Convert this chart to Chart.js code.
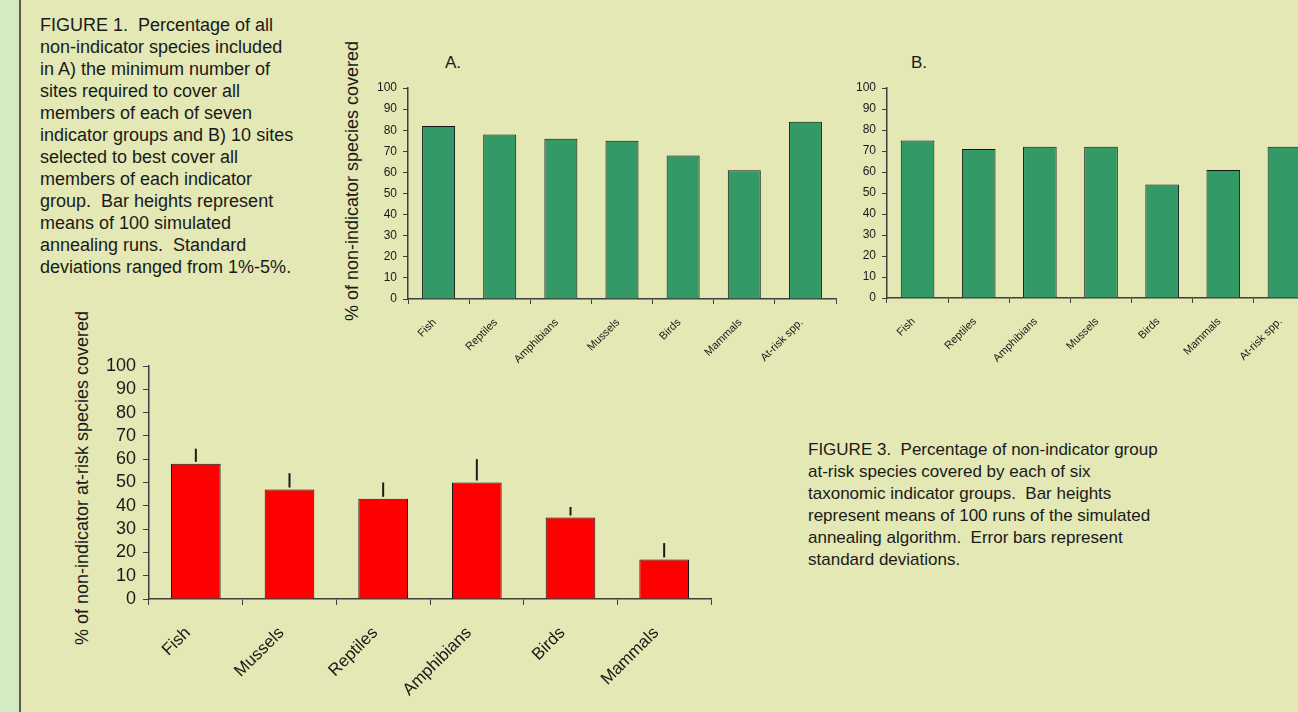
<!DOCTYPE html>
<html>
<head>
<meta charset="utf-8">
<script src="https://cdn.jsdelivr.net/npm/chart.js@4.4.1/dist/chart.umd.min.js"></script>
<style>
  html, body { margin: 0; padding: 0; }
  body {
    width: 1298px; height: 712px; overflow: hidden; position: relative;
    background: #e3e8b4; color: #1a1a1a;
    font-family: "Liberation Sans", Arial, sans-serif;
  }
  .strip { position: absolute; left: 0; top: 0; width: 19px; height: 712px; background: #d3eac3; border-right: 2px solid #5c5c4c; }
  .caption { position: absolute; white-space: pre; line-height: 22px; }
  .box { position: absolute; }
  .ytitle { position: absolute; white-space: nowrap; font-size: 18px; line-height: 22px; transform: translate(-50%, -50%) rotate(-90deg); }
  .panel { position: absolute; font-size: 17px; line-height: 22px; }
</style>
</head>
<body>
<div class="strip"></div>

<div class="caption" style="left:40px; top:14px; font-size:18px;">FIGURE 1.  Percentage of all
non-indicator species included
in A) the minimum number of
sites required to cover all
members of each of seven
indicator groups and B) 10 sites
selected to best cover all
members of each indicator
group.  Bar heights represent
means of 100 simulated
annealing runs.  Standard
deviations ranged from 1%-5%.</div>

<div class="caption" style="left:808px; top:439px; font-size:17px;">FIGURE 3.  Percentage of non-indicator group
at-risk species covered by each of six
taxonomic indicator groups.  Bar heights
represent means of 100 runs of the simulated
annealing algorithm.  Error bars represent
standard deviations.</div>

<div class="panel" style="left:445px; top:52px;">A.</div>
<div class="panel" style="left:911px; top:52px;">B.</div>
<div class="ytitle" style="left:352px; top:181px;">% of non-indicator species covered</div>
<div class="ytitle" style="left:82px; top:478px;">% of non-indicator at-risk species covered</div>

<div class="box" style="left:320px; top:30px; width:520px; height:349px;"><canvas id="chartA"></canvas></div>
<div class="box" style="left:830px; top:30px; width:489px; height:348px;"><canvas id="chartB"></canvas></div>
<div class="box" style="left:60px; top:300px; width:656px; height:412px;"><canvas id="chartRisk"></canvas></div>

<script>
// indicator groups (figure 1) and values for panel A / panel B
const groups7 = ['Fish', 'Reptiles', 'Amphibians', 'Mussels', 'Birds', 'Mammals', 'At-risk spp.'];
const coverMinSites = [82, 78, 76, 75, 68, 61, 84];
const coverTenSites = [75, 71, 72, 72, 54, 61, 72];

// figure 3: at-risk coverage, means and standard deviations
const groups6 = ['Fish', 'Mussels', 'Reptiles', 'Amphibians', 'Birds', 'Mammals'];
const atRiskMean = [58, 47, 43, 50, 35, 17];
const atRiskSd = [6.5, 7, 7, 10, 4.5, 7];

const axisColor = '#3f3f3f';
const textColor = '#1a1a1a';

Chart.defaults.font.family = "'Liberation Sans', Arial, sans-serif";

// one-sided (upper) error bars, no caps
const errorBars = {
  id: 'errorBars',
  afterDatasetsDraw(chart) {
    const ds = chart.data.datasets[0];
    if (!ds.errors) return;
    const meta = chart.getDatasetMeta(0);
    const y = chart.scales.y;
    const ctx = chart.ctx;
    ctx.save();
    ctx.strokeStyle = '#1a1a1a';
    ctx.lineWidth = 2;
    meta.data.forEach((bar, i) => {
      const top = y.getPixelForValue(ds.data[i] + ds.errors[i]);
      ctx.beginPath();
      ctx.moveTo(bar.x, bar.y - 2);
      ctx.lineTo(bar.x, top);
      ctx.stroke();
    });
    ctx.restore();
  }
};

function makeChart(id, labels, values, o) {
  return new Chart(document.getElementById(id), {
    type: 'bar',
    data: {
      labels: labels,
      datasets: [{
        data: values,
        errors: o.errors,
        backgroundColor: o.fill,
        borderColor: '#141414',
        borderWidth: 1,
        barPercentage: o.barPct,
        categoryPercentage: 1
      }]
    },
    options: {
      responsive: true,
      maintainAspectRatio: false,
      animation: false,
      layout: { padding: o.pad },
      plugins: { legend: { display: false }, tooltip: { enabled: false } },
      scales: {
        x: {
          grid: { offset: true, drawOnChartArea: false, tickLength: o.tick, color: axisColor },
          border: { color: axisColor, width: 1.5 },
          ticks: {
            minRotation: 45, maxRotation: 45, autoSkip: false,
            padding: o.xPad, labelOffset: o.xShift,
            color: textColor, font: { size: o.xFont }
          },
          afterFit: s => { s.height = o.xHeight; }
        },
        y: {
          min: 0, max: 100,
          grid: { drawOnChartArea: false, tickLength: o.tick, color: axisColor },
          border: { color: axisColor, width: 1.5 },
          ticks: { stepSize: 10, autoSkip: false, padding: o.yPad, color: textColor, font: { size: o.yFont } },
          afterFit: s => { s.width = o.yWidth; }
        }
      }
    },
    plugins: [errorBars]
  });
}

makeChart('chartA', groups7, coverMinSites, {
  fill: '#339966', barPct: 0.54, pad: { top: 58, right: 4, left: 0, bottom: 0 },
  tick: 5, xPad: 12, xShift: -4, xFont: 11, xHeight: 80, yPad: 6, yFont: 12, yWidth: 88
});

makeChart('chartB', groups7, coverTenSites, {
  fill: '#339966', barPct: 0.55, pad: { top: 58, right: 4, left: 0, bottom: 0 },
  tick: 5, xPad: 12, xShift: -4, xFont: 11, xHeight: 80, yPad: 6, yFont: 12, yWidth: 57
});

makeChart('chartRisk', groups6, atRiskMean, {
  fill: '#ff0000', barPct: 0.53, errors: atRiskSd, pad: { top: 66, right: 5, left: 0, bottom: 13 },
  tick: 6, xPad: 18, xShift: -8, xFont: 17, xHeight: 100, yPad: 7, yFont: 18, yWidth: 89
});
</script>
</body>
</html>
